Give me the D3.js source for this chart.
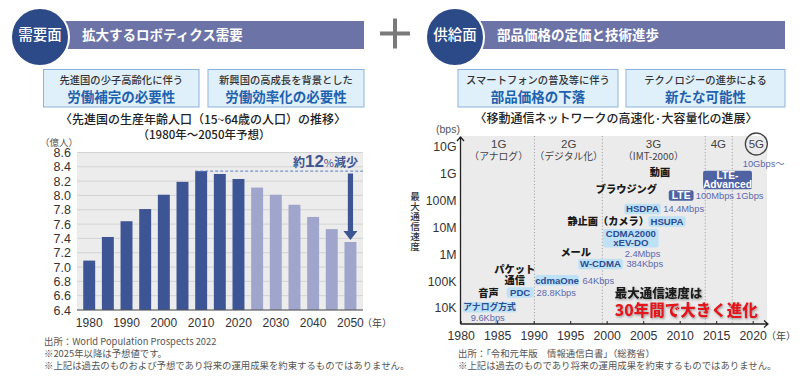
<!DOCTYPE html>
<html><head><meta charset="utf-8">
<script src="https://cdn.jsdelivr.net/npm/d3@7"></script>
<style>
body{margin:0;background:#fff;}
svg{display:block;font-family:"Liberation Sans","Noto Sans CJK JP",sans-serif;}
</style></head><body>
<svg id="c" width="800" height="382"></svg>
<script>
// ---------------- DATA ----------------
// Left chart: working-age population of developed countries (100 million people)
const popYears = [1980,1985,1990,1995,2000,2005,2010,2015,2020,2025,2030,2035,2040,2045,2050];
const popValues = [7.09,7.42,7.64,7.81,8.01,8.19,8.34,8.30,8.23,8.11,8.01,7.87,7.70,7.53,7.35];
const forecastFrom = 2025;
const popTicks = [6.4,6.6,6.8,7.0,7.2,7.4,7.6,7.8,8.0,8.2,8.4,8.6];
const popXLabels = [1980,1990,2000,2010,2020,2030,2040,2050];

// Right chart: mobile network speed evolution
const netYearTicks = [1980,1985,1990,1995,2000,2005,2010,2015,2020];
const speedTicks = [1e4,1e5,1e6,1e7,1e8,1e9,1e10];
const speedTickLabels = ["10K","100K","1M","10M","100M","1G","10G"];
const genNames = ["1G","2G","3G","4G","5G"];
const genSubs = ["（アナログ）","（デジタル化）","（IMT-2000）","",""];
const genCenters = [1985.2,1994.8,2006.4,2015.3,2020.5];
const genBoundaries = [1990.1,1999.4,2013.5,2017.2];

const techNames = ["アナログ方式","PDC","cdmaOne","W-CDMA","CDMA2000\nxEV-DO","HSUPA","HSDPA","LTE","LTE-\nAdvanced"];
const techGens = ["1G","2G","2G","3G","3G","3G","3G","4G","4G"];
const techStart = [1980.3,1986.3,1990.2,1996.1,1999.5,2005.7,2002.4,2008.5,2013.2];
const techEnd = [1987.6,1990.0,1996.2,2002.2,2007.1,2010.8,2007.4,2011.9,2019.9];
const techLevel = [4.03,4.58,5.03,5.64,6.60,7.22,7.69,8.19,8.77]; // log10(bps)

const speedTexts = ["9.6Kbps","28.8Kbps","64Kbps","384Kbps","2.4Mbps","14.4Mbps","100Mbps","1Gbps","10Gbps～"];
const speedYears = [1983.7,1990.4,1996.7,2002.7,2004.9,2007.75,2012.2,2019.6,2021.5];
const speedLevels = [3.63,4.57,5.03,5.64,6.04,7.69,8.19,8.19,9.37];
const speedAnchors = ["middle","start","start","start","middle","start","start","middle","middle"];

const useNames = ["音声","パケット","通信","メール","静止画（カメラ）","ブラウジング","動画"];
const useYears = [1983.8,1987.4,1987.4,1995.75,2000.2,2002.7,2007.3];
const useLevels = [4.56,5.45,5.02,6.09,7.22,8.44,9.04];

// ---------------- DRAW ----------------
const svg = d3.select("#c");
const JP = '"Noto Sans CJK JP","Liberation Sans",sans-serif';
const NUM = '"Liberation Sans","Noto Sans CJK JP",sans-serif';

const defs = svg.append("defs");
const f = defs.append("filter").attr("id","sh").attr("x","-10%").attr("y","-30%").attr("width","120%").attr("height","160%");
f.append("feDropShadow").attr("dx",1).attr("dy",1.2).attr("stdDeviation",0.9).attr("flood-color","#777").attr("flood-opacity",0.7);

// Headers
function header(cx, label, title, barEnd){
  svg.append("rect").attr("x",cx).attr("y",21).attr("width",barEnd-cx).attr("height",28).attr("fill","#6b73a7");
  svg.append("circle").attr("cx",cx).attr("cy",37).attr("r",29).attr("fill","#2c4a87").attr("stroke","#fff").attr("stroke-width",2);
  svg.append("text").attr("x",cx).attr("y",35).attr("dy","0.36em").attr("text-anchor","middle")
    .attr("fill","#fff").attr("font-size",14.5).attr("font-weight",500).attr("font-family",JP).text(label);
  svg.append("text").attr("x",cx+42).attr("y",35).attr("dy","0.36em")
    .attr("fill","#fff").attr("font-size",13.5).attr("font-weight",700).attr("font-family",JP).text(title);
}
header(40,"需要面","拡大するロボティクス需要",364);
header(455,"供給面","部品価格の定価と技術進歩",785);

// plus sign
svg.append("rect").attr("x",380).attr("y",31.5).attr("width",30).attr("height",4).attr("fill","#7a7a7a");
svg.append("rect").attr("x",393).attr("y",18.5).attr("width",4).attr("height",30).attr("fill","#7a7a7a");

// Boxes
function box(x0,x1,l1,l2){
  svg.append("rect").attr("x",x0).attr("y",69.5).attr("width",x1-x0).attr("height",37.5)
    .attr("fill","#e0f0fb").attr("stroke","#8db3da").attr("stroke-width",1);
  const cx=(x0+x1)/2;
  svg.append("text").attr("x",cx).attr("y",80).attr("dy","0.36em").attr("text-anchor","middle")
    .attr("fill","#333").attr("font-size",10.3).attr("font-weight",500).attr("font-family",JP).text(l1);
  svg.append("text").attr("x",cx).attr("y",97).attr("dy","0.36em").attr("text-anchor","middle")
    .attr("fill","#1e62ae").attr("font-size",13.5).attr("font-weight",700).attr("font-family",JP).text(l2);
}
box(43.5,199,"先進国の少子高齢化に伴う","労働補完の必要性");
box(208,364,"新興国の高成長を背景とした","労働効率化の必要性");
box(458,618,"スマートフォンの普及等に伴う","部品価格の下落");
box(626,785,"テクノロジーの進歩による","新たな可能性");

// Titles
function ctext(x,y,t,size,opts={}){
  return svg.append("text").attr("x",x).attr("y",y).attr("dy","0.36em").attr("text-anchor",opts.anchor||"middle")
    .attr("fill",opts.fill||"#222").attr("font-size",size).attr("font-weight",opts.weight||400)
    .attr("font-family",opts.font||JP).text(t);
}
ctext(203,120,"〈先進国の生産年齢人口（15~64歳の人口）の推移〉",12,{weight:500});
ctext(204,135,"（1980年～2050年予想）",11.5,{weight:500});
ctext(616,118.5,"〈移動通信ネットワークの高速化·大容量化の進展〉",12,{weight:500});

// ---------- Left chart ----------
const L = {x0:77, x1:363, yTop:152.5, yBot:310};
const xb = d3.scaleBand().domain(popYears).range([79.87,359.77]).paddingInner(0.36).paddingOuter(0.18);
const yl = d3.scaleLinear().domain([6.4,8.6]).range([L.yBot,L.yTop]);

svg.append("rect").attr("x",L.x0).attr("y",L.yTop).attr("width",L.x1-L.x0).attr("height",L.yBot-L.yTop).attr("fill","#ececec");
svg.append("g").selectAll("line").data(popTicks).join("line")
  .attr("x1",L.x0).attr("x2",L.x1).attr("y1",d=>yl(d)).attr("y2",d=>yl(d))
  .attr("stroke","#d3d3d3").attr("stroke-width",1);

svg.append("g").selectAll("rect").data(popYears).join("rect")
  .attr("x",d=>xb(d)).attr("width",xb.bandwidth())
  .attr("y",(d,i)=>yl(popValues[i])).attr("height",(d,i)=>L.yBot-yl(popValues[i]))
  .attr("fill",d=>d>=forecastFrom?"#a0a6cb":"#3e5595");

svg.append("line").attr("x1",L.x0).attr("x2",L.x1).attr("y1",L.yBot).attr("y2",L.yBot).attr("stroke","#555").attr("stroke-width",1);

const yAxL = svg.append("g").attr("transform",`translate(${L.x0-6},0)`)
  .call(d3.axisLeft(yl).tickValues(popTicks).tickSize(0).tickPadding(0).tickFormat(d3.format(".1f")));
yAxL.select(".domain").remove();
yAxL.selectAll("text").attr("font-size",12.5).attr("fill","#333").attr("font-family",NUM);

const xAxL = svg.append("g").attr("transform",`translate(0,${L.yBot})`)
  .call(d3.axisBottom(xb).tickValues(popXLabels).tickSize(0).tickPadding(8));
xAxL.select(".domain").remove();
xAxL.selectAll("text").attr("font-size",12).attr("fill","#333").attr("font-family",NUM);
ctext(377,323,"（年）",10,{fill:"#444"});
ctext(59,143,"（億人）",9.5,{fill:"#555"});

// peak dashed line and decrease arrow
const peakIdx = popValues.indexOf(d3.max(popValues));
const peakY = yl(popValues[peakIdx]);
svg.append("line").attr("x1",xb(popYears[peakIdx])).attr("x2",L.x1).attr("y1",peakY).attr("y2",peakY)
  .attr("stroke","#5b7bbd").attr("stroke-width",1).attr("stroke-dasharray","3,2");
const lastX = xb(popYears[popYears.length-1]) + xb.bandwidth()/2;
const tipY = yl(popValues[popValues.length-1]) - 2;
const topY = peakY + 2.5;
svg.append("path")
  .attr("d",`M${lastX-2.6},${topY} L${lastX+2.6},${topY} L${lastX+2.6},${tipY-9} L${lastX+7},${tipY-9} L${lastX},${tipY} L${lastX-7},${tipY-9} L${lastX-2.6},${tipY-9} Z`)
  .attr("fill","#3e5595");
const lab = svg.append("text").attr("x",358).attr("y",peakY-4).attr("text-anchor","end")
  .attr("fill","#3e5595").attr("font-family",JP).attr("font-weight",700);
lab.append("tspan").attr("font-size",12).text("約");
lab.append("tspan").attr("font-size",17).attr("font-family",NUM).text("12");
lab.append("tspan").attr("font-size",11).attr("font-weight",400).text("%");
lab.append("tspan").attr("font-size",12).text("減少");

// footers
function foot(x,y,t){ svg.append("text").attr("x",x).attr("y",y).attr("dy","0.36em").attr("fill","#555")
  .attr("font-size",9.4).attr("font-family",JP).text(t); }
foot(44,341.5,"出所：World Population Prospects 2022");
foot(44,353.5,"※2025年以降は予想値です。");
foot(44,366,"※上記は過去のものおよび予想であり将来の運用成果を約束するものではありません。");
foot(458,353.5,"出所：「令和元年版　情報通信白書」（総務省）");
foot(458,366,"※上記は過去のものであり将来の運用成果を約束するものではありません。");

// ---------- Right chart ----------
const R = {x0:460.5, x1:767, yTop:136, yBot:324};
const xs = d3.scaleLinear().domain([1980,2020]).range([460.7,752.7]);
const ys = d3.scaleLog().domain([1e4,1e10]).range([308,147]);
const yv = e => ys(Math.pow(10,e));

svg.append("rect").attr("x",R.x0).attr("y",R.yTop).attr("width",R.x1-R.x0).attr("height",R.yBot-R.yTop).attr("fill","#ebebeb");
svg.append("g").selectAll("line").data(genBoundaries).join("line")
  .attr("x1",d=>xs(d)).attr("x2",d=>xs(d)).attr("y1",R.yTop).attr("y2",R.yBot)
  .attr("stroke","#9a9a9a").attr("stroke-width",0.9).attr("stroke-dasharray","1.2,2");

// generation labels
genNames.forEach((g,i)=>{
  ctext(xs(genCenters[i]),143.8,g,11.5,{fill:"#444",font:NUM});
  if(genSubs[i]) ctext(xs(genCenters[i]),156.5,genSubs[i],9.8,{fill:"#444"});
  if(g==="5G"){ svg.append("circle").attr("cx",xs(genCenters[i])).attr("cy",144).attr("r",11)
      .attr("fill","none").attr("stroke","#444").attr("stroke-width",1.3); }
});

// axes
const xAxR = svg.append("g").attr("transform",`translate(0,${R.yBot})`)
  .call(d3.axisBottom(xs).tickValues(netYearTicks).tickSizeInner(-3).tickSizeOuter(0).tickPadding(7).tickFormat(d3.format("d")));
xAxR.select(".domain").remove();
xAxR.selectAll("line").attr("stroke","#222");
xAxR.selectAll("text").attr("font-size",12.3).attr("fill","#333").attr("font-family",NUM);
const yAxR = svg.append("g").attr("transform",`translate(${R.x0-1},0)`)
  .call(d3.axisLeft(ys).tickValues(speedTicks).tickSize(0).tickPadding(3).tickFormat((d,i)=>speedTickLabels[i]));
yAxR.select(".domain").remove();
yAxR.selectAll("text").attr("font-size",12.3).attr("fill","#333").attr("font-family",NUM);

svg.append("path").attr("d",`M${R.x0},${R.yBot} L${R.x0},${R.yTop+1} M${R.x0-3.5},${R.yTop+5} L${R.x0},${R.yTop+1} L${R.x0+3.5},${R.yTop+5}`)
  .attr("fill","none").attr("stroke","#222").attr("stroke-width",1.3);
svg.append("path").attr("d",`M${R.x0},${R.yBot} L${R.x1+1},${R.yBot} M${R.x1-3},${R.yBot-3.5} L${R.x1+1},${R.yBot} L${R.x1-3},${R.yBot+3.5}`)
  .attr("fill","none").attr("stroke","#222").attr("stroke-width",1.3);
ctext(781,336,"（年）",10,{fill:"#444"});
ctext(448,129.5,"(bps)",10.5,{fill:"#555",font:NUM});
// vertical axis title
svg.append("text").attr("x",415).attr("y",192).attr("writing-mode","vertical-rl").attr("text-anchor","start")
  .attr("font-size",9.6).attr("font-weight",500).attr("letter-spacing",0.4).attr("fill","#333").attr("font-family",JP)
  .text("最大通信速度");

// tech boxes
techNames.forEach((n,i)=>{
  const lines = n.split("\n");
  const dark = techGens[i]==="4G";
  const h = lines.length>1 ? 18.5 : 10.5;
  const cy = yv(techLevel[i]);
  const x0 = xs(techStart[i]), x1 = xs(techEnd[i]);
  svg.append("rect").attr("x",x0).attr("y",cy-h/2).attr("width",x1-x0).attr("height",h).attr("rx",2)
    .attr("fill",dark?"#4f63a4":"#bfe1f6");
  lines.forEach((ln,j)=>{
    const isJP = /[^\x00-\x7F]/.test(ln);
    ctext((x0+x1)/2, cy + (j-(lines.length-1)/2)*8.8, ln, isJP?8.8:(dark?10.3:9.6),
      {fill:dark?"#fff":"#2b4d92", weight:700, font: isJP?JP:NUM});
  });
});
// speed labels
speedTexts.forEach((t,i)=>{
  ctext(xs(speedYears[i]), yv(speedLevels[i]), t, 9.3, {anchor:speedAnchors[i], fill:"#5b69ae", font:NUM});
});
// use-case labels
useNames.forEach((t,i)=>{
  ctext(xs(useYears[i]), yv(useLevels[i]), t, 10.2, {fill:"#1a1a1a", weight:900});
});
// big message
ctext(xs(2007.1), yv(4.55), "最大通信速度は", 12.5, {fill:"#1a1a1a", weight:900}).attr("filter","url(#sh)");
ctext(xs(2010.9), yv(3.9), "30年間で大きく進化", 15.5, {fill:"#e3141e", weight:900}).attr("filter","url(#sh)");
</script>
</body></html>
